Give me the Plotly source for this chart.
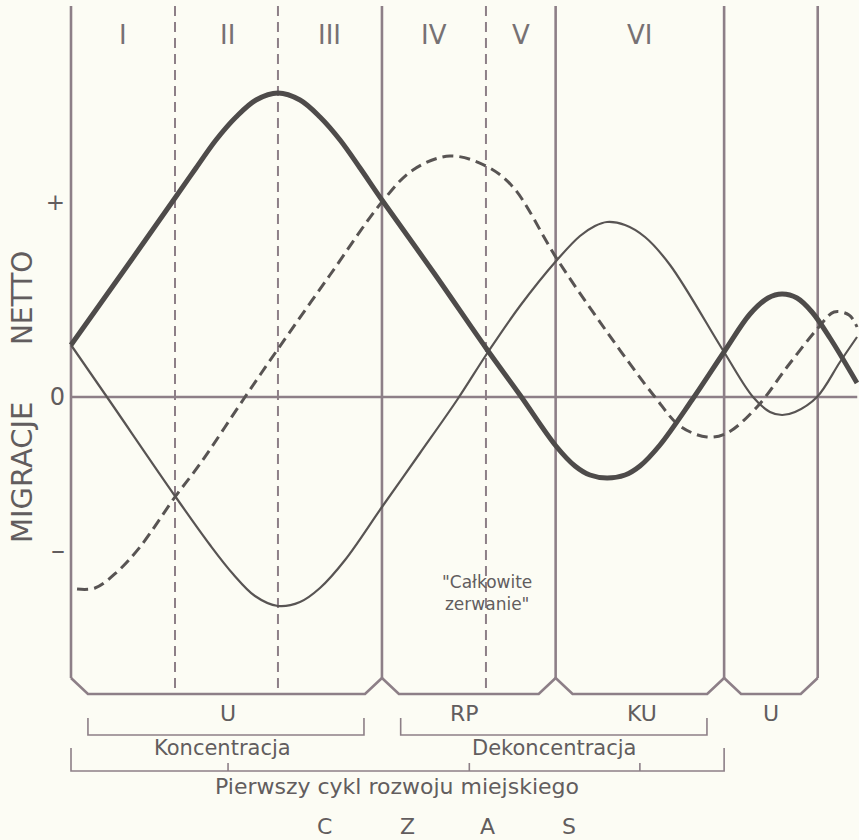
import plotly.graph_objects as go

# ------------------------------------------------------------------
# DATA  (x = time in phase units, y = net migration in arbitrary units)
# ------------------------------------------------------------------
phase_labels = ["I", "II", "III", "IV", "V", "VI"]
phase_label_t = [0.50, 1.50, 2.49, 3.49, 4.33, 5.47]

solid_bounds = [0.0, 2.99, 4.66, 6.28, 7.18]     # solid phase boundaries
dashed_bounds = [1.00, 1.99, 3.99]                # dashed sub-phase boundaries

# thick solid curve (core city)
core_t = [0.0, 0.567, 1.0, 1.202, 1.394, 1.587, 1.779, 1.99, 2.202, 2.394,
          2.587, 2.779, 2.99, 3.49, 3.99, 4.317, 4.663, 4.846, 4.99, 5.154,
          5.327, 5.471, 5.663, 5.971, 6.279, 6.529, 6.702, 6.837, 6.981, 7.125,
          7.298, 7.558]
core_v = [0.52, 1.35, 1.99, 2.29, 2.57, 2.80, 2.97, 3.04, 2.97, 2.80,
          2.57, 2.29, 1.97, 1.24, 0.49, 0.02, -0.49, -0.69, -0.78, -0.81,
          -0.78, -0.69, -0.48, -0.03, 0.45, 0.83, 0.99, 1.03, 0.99, 0.85,
          0.59, 0.14]

# dashed curve (suburban ring)
ring_t = [0.058, 0.231, 0.442, 0.663, 1.0, 1.24, 1.673, 1.99, 2.49, 2.99,
          3.288, 3.644, 3.99, 4.25, 4.673, 5.154, 5.615, 5.856, 6.115, 6.308,
          6.596, 6.885, 7.183, 7.337, 7.481, 7.558]
ring_v = [-1.92, -1.91, -1.75, -1.50, -1.00, -0.67, 0.00, 0.48, 1.22, 1.95,
          2.27, 2.41, 2.31, 2.10, 1.38, 0.65, 0.0, -0.29, -0.40, -0.36,
          -0.10, 0.30, 0.69, 0.85, 0.82, 0.70]

# thin solid curve (periphery)
peri_t = [0.0, 0.346, 1.0, 1.337, 1.558, 1.769, 1.99, 2.202, 2.394, 2.635,
          2.99, 3.356, 3.712, 4.01, 4.317, 4.673, 4.894, 5.038, 5.154, 5.327,
          5.519, 5.76, 6.279, 6.558, 6.721, 6.837, 6.962, 7.173, 7.394, 7.558]
peri_v = [0.52, 0.0, -0.99, -1.48, -1.77, -1.99, -2.09, -2.05, -1.91, -1.63,
          -1.10, -0.56, -0.03, 0.45, 0.91, 1.37, 1.61, 1.71, 1.75, 1.72,
          1.60, 1.32, 0.45, 0.0, -0.15, -0.18, -0.15, 0.0, 0.35, 0.60]

y_tick_vals = [1.95, 0.0, -1.55]
y_tick_text = ['<span style="font-size:23px">+</span>', "0",
               '<span style="font-size:28px">–</span>']

stage_labels = ["U", "RP", "KU", "U"]
stage_t = [1.51, 3.78, 5.49, 6.73]

group_labels = ["Koncentracja", "Dekoncentracja"]
group_t = [1.46, 4.64]
group_spans = [(0.163, 2.817), (3.17, 6.115)]

cycle_label = "Pierwszy cykl rozwoju miejskiego"
cycle_span = (0.0, 6.28)
cycle_inner_ticks = [1.51, 3.83, 5.47]

time_letters = ["C", "Z", "A", "S"]
time_letter_t = [2.44, 3.24, 4.00, 4.79]

break_label = '"Całkowite<br>zerwanie"'

# ------------------------------------------------------------------
# LAYOUT CONSTANTS
# ------------------------------------------------------------------
W, H = 859, 840
X0_PX, PX_PER_T = 71, 104.0
Y0_PX, PX_PER_V = 397, 100.0
x_range = [-X0_PX / PX_PER_T, (W - X0_PX) / PX_PER_T]
y_range = [(Y0_PX - H) / PX_PER_V, Y0_PX / PX_PER_V]

TOP = 3.91          # top of boundary lines
VBOT = -2.81        # end of straight part of solid boundaries
HBOT = -2.97        # bottom frame line
BEVEL = 0.163
ZERO_END = 7.56

BG = "#fcfcf4"
FRAME = "#8d7f87"
CURVE = "#585453"
TEXT = "#625d5e"
FONT = "DejaVu Sans"

fig = go.Figure()

# solid boundaries with bevelled bottom frame
sx, sy = [], []
for b in solid_bounds:
    sx += [b, b, None]
    sy += [TOP, VBOT, None]
for a, b in zip(solid_bounds[:-1], solid_bounds[1:]):
    sx += [a, a + BEVEL, b - BEVEL, b, None]
    sy += [VBOT, HBOT, HBOT, VBOT, None]
fig.add_trace(go.Scatter(x=sx, y=sy, mode="lines",
                         line=dict(color=FRAME, width=2.6), hoverinfo="skip"))

# dashed boundaries
dx, dy = [], []
for b in dashed_bounds:
    dx += [b, b, None]
    dy += [TOP, HBOT, None]
fig.add_trace(go.Scatter(x=dx, y=dy, mode="lines",
                         line=dict(color=FRAME, width=2, dash="10px,6px"),
                         hoverinfo="skip"))

# zero line
fig.add_trace(go.Scatter(x=[0, ZERO_END], y=[0, 0], mode="lines",
                         line=dict(color=FRAME, width=2.6), hoverinfo="skip"))

# brackets
bx, by = [], []
BR_Y, BR_TOP = -3.38, -3.21
for a, b in group_spans:
    bx += [a, a, b, b, None]
    by += [BR_TOP, BR_Y, BR_Y, BR_TOP, None]
CY, CY_TOP, CY_IN = -3.74, -3.51, -3.66
bx += [cycle_span[0], cycle_span[0], cycle_span[1], cycle_span[1], None]
by += [CY_TOP, CY, CY, CY_TOP, None]
for t in cycle_inner_ticks:
    bx += [t, t, None]
    by += [CY, CY_IN, None]
fig.add_trace(go.Scatter(x=bx, y=by, mode="lines",
                         line=dict(color=FRAME, width=1.6), hoverinfo="skip"))

# curves
fig.add_trace(go.Scatter(x=peri_t, y=peri_v, mode="lines",
                         line=dict(color=CURVE, width=2.2, shape="spline", smoothing=1),
                         name="peryferie"))
fig.add_trace(go.Scatter(x=ring_t, y=ring_v, mode="lines",
                         line=dict(color=CURVE, width=3, dash="11px,6px",
                                   shape="spline", smoothing=1),
                         name="strefa podmiejska"))
fig.add_trace(go.Scatter(x=core_t, y=core_v, mode="lines",
                         line=dict(color="#4e4b4a", width=5, shape="spline", smoothing=1),
                         name="miasto centralne"))

ann = []
for lab, t in zip(phase_labels, phase_label_t):
    ann.append(dict(x=t, y=3.62, text=lab, font=dict(size=26, color="#777173")))
for lab, t in zip(stage_labels, stage_t):
    ann.append(dict(x=t, y=-3.16, text=lab, font=dict(size=22, color=TEXT)))
for lab, t in zip(group_labels, group_t):
    ann.append(dict(x=t, y=-3.51, text=lab, font=dict(size=21, color=TEXT)))
ann.append(dict(x=3.13, y=-3.89, text=cycle_label, font=dict(size=22, color=TEXT)))
for lab, t in zip(time_letters, time_letter_t):
    ann.append(dict(x=t, y=-4.29, text=lab, font=dict(size=22, color=TEXT)))
ann.append(dict(x=4.0, y=-1.96, text=break_label, font=dict(size=17, color=TEXT)))
ann.append(dict(x=-0.47, y=-0.76, text="MIGRACJE", textangle=-90,
                font=dict(size=29, color=TEXT)))
ann.append(dict(x=-0.47, y=0.99, text="NETTO", textangle=-90,
                font=dict(size=28, color=TEXT)))
for a in ann:
    a.update(xref="x", yref="y", showarrow=False, xanchor="center", yanchor="middle")

fig.update_layout(
    width=W, height=H,
    margin=dict(l=0, r=0, t=0, b=0),
    paper_bgcolor=BG, plot_bgcolor=BG,
    showlegend=False,
    font=dict(family=FONT, color=TEXT),
    annotations=ann,
    xaxis=dict(range=x_range, visible=False, fixedrange=True),
    yaxis=dict(range=y_range, anchor="free", position=X0_PX / W,
               tickvals=y_tick_vals, ticktext=y_tick_text,
               tickfont=dict(size=24, color=TEXT, family=FONT),
               ticks="", ticklabelstandoff=6,
               showline=False, showgrid=False, zeroline=False, fixedrange=True),
)

fig.write_html(
    "out.html",
    config={"displayModeBar": False},
    post_script="document.body.style.margin='0';"
                "document.body.style.background='" + BG + "';",
)
